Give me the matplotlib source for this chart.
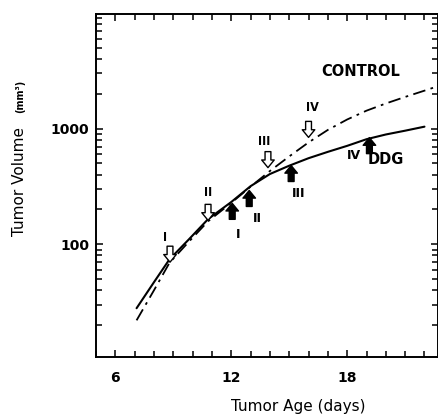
import matplotlib
matplotlib.use("Agg")
import matplotlib.pyplot as plt
from matplotlib.ticker import FixedLocator, NullFormatter, FixedFormatter

# ---- data ----
control_days = [7.1, 8.0, 8.8, 9.8, 10.8, 12.0, 13.0, 14.0, 15.0, 16.0, 17.0, 18.0, 19.0, 20.0, 21.0, 22.0, 22.7]
control_vol = [22, 40, 69, 105, 158, 228, 315, 430, 575, 760, 975, 1200, 1430, 1650, 1880, 2130, 2330]

ddg_days = [7.1, 8.0, 8.8, 9.8, 10.8, 12.0, 13.0, 14.0, 15.0, 16.0, 17.0, 18.0, 19.0, 20.0, 21.0, 22.0]
ddg_vol = [28, 47, 74, 110, 165, 232, 318, 405, 478, 555, 630, 710, 810, 890, 960, 1040]

ctrl_arrow_days = [8.83, 10.8, 13.9, 16.0]
ctrl_arrow_vol = [70, 161, 460, 840]
ctrl_arrow_labels = ["I", "II", "III", "IV"]

ddg_arrow_days = [12.05, 12.93, 15.1, 19.15]
ddg_arrow_vol = [226, 292, 480, 836]
ddg_arrow_labels = ["I", "II", "III", "IV"]

x_major = [6, 12, 18]
x_major_labels = ["6", "12", "18"]
x_minor = list(range(5, 23))
y_major = [100, 1000]
y_major_labels = ["100", "1000"]

# ---- figure ----
W, H, DPI = 439, 416, 100
fig = plt.figure(figsize=(W / DPI, H / DPI), dpi=DPI)
plt.rcParams['font.family'] = ['DejaVu Sans']

left, right, top, bottom = 96, 438, 14, 357
ax = fig.add_axes([left / W, (H - bottom) / H, (right - left) / W, (bottom - top) / H])
ax.set_yscale('log')
ax.set_xlim(5, 22.7)
ax.set_ylim(10.6, 9800)

ax.plot(ddg_days, ddg_vol, color='black', lw=1.5, solid_capstyle='round')
ax.plot(control_days, control_vol, color='black', lw=1.3, dashes=(7, 3, 1.5, 3))

# ticks
ax.xaxis.set_major_locator(FixedLocator(x_major))
ax.xaxis.set_major_formatter(FixedFormatter(x_major_labels))
ax.xaxis.set_minor_locator(FixedLocator([d for d in x_minor if d not in x_major]))
ax.xaxis.set_minor_formatter(NullFormatter())
ax.yaxis.set_major_locator(FixedLocator(y_major))
ax.yaxis.set_major_formatter(FixedFormatter(y_major_labels))
minors = [m * 10 ** e for e in range(1, 4) for m in range(2, 10)]
ax.yaxis.set_minor_locator(FixedLocator(minors + [10000]))
ax.yaxis.set_minor_formatter(NullFormatter())

ax.tick_params(which='both', direction='in', top=True, right=True, width=1.1, colors='black')
ax.tick_params(which='major', length=5)
ax.tick_params(which='minor', length=4.5)
ax.tick_params(axis='x', which='major', pad=10, labelsize=10)
ax.tick_params(axis='y', which='major', pad=5, labelsize=10)
for lab in ax.get_xticklabels() + ax.get_yticklabels():
    lab.set_fontweight('semibold')
for s in ax.spines.values():
    s.set_linewidth(1.4)

# arrows
def px2pt(p):
    return p * 72.0 / DPI

arrow_style = 'simple,head_length=0.55,head_width=0.9,tail_width=0.42'
for d, v in zip(ctrl_arrow_days, ctrl_arrow_vol):
    ax.annotate('', xy=(d, v), xytext=(0, px2pt(16)), textcoords='offset points',
                arrowprops=dict(arrowstyle=arrow_style, fc='white', ec='black', lw=1.0,
                                shrinkA=0, shrinkB=0))
for d, v in zip(ddg_arrow_days, ddg_arrow_vol):
    ax.annotate('', xy=(d, v), xytext=(0, -px2pt(16)), textcoords='offset points',
                arrowprops=dict(arrowstyle=arrow_style, fc='black', ec='black', lw=1.0,
                                shrinkA=0, shrinkB=0))

ctrl_label_offsets = [(-5, 25), (0, 28), (-4, 26), (4, 30)]
for d, v, lab, (dx, dy) in zip(ctrl_arrow_days, ctrl_arrow_vol, ctrl_arrow_labels, ctrl_label_offsets):
    ax.annotate(lab, xy=(d, v), xytext=(px2pt(dx), px2pt(dy)), textcoords='offset points',
                ha='center', va='center', fontsize=9, fontweight='bold', fontstretch='condensed')
ddg_label_offsets = [(6, -31), (8, -28), (7, -28), (-15, -18)]
for d, v, lab, (dx, dy) in zip(ddg_arrow_days, ddg_arrow_vol, ddg_arrow_labels, ddg_label_offsets):
    ax.annotate(lab, xy=(d, v), xytext=(px2pt(dx), px2pt(dy)), textcoords='offset points',
                ha='center', va='center', fontsize=9, fontweight='bold')

# group labels
fig.text(361 / W, 1 - 72 / H, 'CONTROL', ha='center', va='center', fontsize=10.5, fontweight='bold')
fig.text(386 / W, 1 - 160 / H, 'DDG', ha='center', va='center', fontsize=10.5, fontweight='bold')

# axis labels
fig.text(298 / W, 1 - 406 / H, 'Tumor Age (days)', ha='center', va='center', fontsize=11)
fig.text(20 / W, 1 - 182 / H, 'Tumor Volume', ha='center', va='center', rotation=90, fontsize=11)
fig.text(20 / W, 1 - 96 / H, '(mm³)', ha='center', va='center', rotation=90, fontsize=7, fontweight='bold')

fig.savefig('out.png', dpi=DPI)
